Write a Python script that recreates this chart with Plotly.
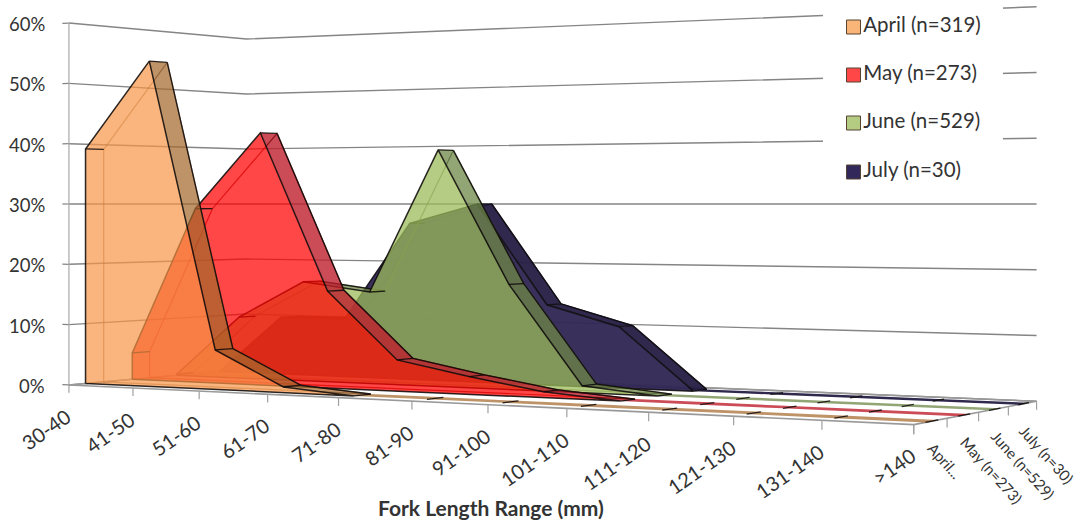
import plotly.graph_objects as go

# ---- data ----
categories = ["30-40", "41-50", "51-60", "61-70", "71-80", "81-90", "91-100",
              "101-110", "111-120", "121-130", "131-140", ">140"]
series_names = ["April (n=319)", "May (n=273)", "June (n=529)", "July (n=30)"]
depth_labels = ["April...", "May (n=273)", "June (n=529)", "July (n=30)"]
april = [39.2, 53.5, 6.4, 0.9, 0, 0, 0, 0, 0, 0, 0, 0]
may = [4.5, 29.2, 41.8, 15.8, 5.0, 2.8, 0.9, 0, 0, 0, 0, 0]
june = [0.2, 10.5, 16.8, 15.3, 38.9, 17.0, 1.1, 0, 0, 0, 0, 0]
july = [0, 10, 10, 26.7, 30, 13.3, 10, 0, 0, 0, 0, 0]
percent_ticks = [0, 10, 20, 30, 40, 50, 60]
axis_title = "Fork Length Range (mm)"

# ---- styling ----
FONT = "Lato, 'Open Sans', sans-serif"
TEXT = "#333333"
GRID = "#858585"
FACE = ["rgba(247,150,70,0.70)", "rgba(255,0,0,0.72)",
        "rgba(155,187,89,0.75)", "rgba(50,40,85,0.96)"]
SLOPE = ["rgba(165,105,45,0.72)", "rgba(190,30,45,0.80)",
         "rgba(110,135,70,0.75)", "rgba(40,32,70,0.96)"]
INNER = ["rgba(120,70,30,0.55)", "rgba(120,0,0,0.75)",
         "rgba(70,90,40,0.60)", "rgba(30,25,60,0.9)"]
SWATCH = ["#F9B478", "#FF4747", "#B4CC82", "#32285A"]
EDGE = "rgba(15,10,10,0.88)"
KEY_X = 853.5
KEY_Y = [27, 75, 123, 172]


# ---- perspective view of the 3-D box ----
# x runs along the fork-length categories, d across the month rows (both 0..1),
# z is the percentage.  The view is turned about 30 degrees, eye level at 30 %.
FOCAL, CX, EYE_Y = 2577.0, 538.0, 204.0
WIDTH, DEPTH = 5.0, 1.61
COS, SIN = 0.859, 0.512


def project(x, d, z):
    xc = -2.592 + WIDTH * x * COS + DEPTH * d * SIN
    zc = 14.24 - WIDTH * x * SIN + DEPTH * d * COS
    return CX + FOCAL * xc / zc, EYE_Y - FOCAL * ((z - 30.0) / 30.0) / zc


def polyline(points):
    xs, ys = zip(*[project(*p) for p in points])
    return list(xs), list(ys)


def segments(pairs):
    xs, ys = [], []
    for a, b in pairs:
        (x0, y0), (x1, y1) = project(*a), project(*b)
        xs += [x0, x1, None]
        ys += [y0, y1, None]
    return xs, ys


fig = go.Figure()


def add_line(xy, color, width):
    fig.add_trace(go.Scatter(x=xy[0], y=xy[1], mode="lines", showlegend=False,
                             hoverinfo="skip", line=dict(color=color, width=width)))


def add_fill(xy, color):
    fig.add_trace(go.Scatter(x=xy[0], y=xy[1], mode="lines", fill="toself", fillcolor=color,
                             line=dict(width=0), showlegend=False, hoverinfo="skip"))


n_cat = len(categories)
xpos = [k / (n_cat - 1) for k in range(n_cat)]

# walls: one gridline per percentage tick, bending at the far left corner
for p in percent_ticks:
    add_line(polyline([(0, 0, p), (0, 1, p), (1, 1, p)]), GRID, 1.4)
    add_line(segments([((0, 0, p), (-0.0095, 0, p))]), GRID, 1.2)
add_line(polyline([(0, 0, 0), (0, 0, 60)]), "#a8a8a8", 1.2)

# floor outline and tick marks
add_line(polyline([(0, 1, 0), (0, 0, 0), (1, 0, 0), (1, 1, 0), (0, 1, 0)]), "#999999", 1.6)
add_line(segments([((x, 0, 0), (x, 0, -1.3)) for x in xpos]), "#a0a0a0", 1.2)
add_line(segments([((1, i / 4, 0), (1, i / 4, -1.3)) for i in range(5)]), "#a0a0a0", 1.2)

# month rows, back to front so the translucent faces layer correctly
rows = [april, may, june, july]
FRONT, BACK = 0.086, 0.182
for idx in [3, 2, 1, 0]:
    values = rows[idx]
    d0, d1 = idx / 4 + FRONT, idx / 4 + BACK
    last = max(k for k, v in enumerate(values) if v > 0) + 1

    # upper surface: shaded where the profile falls or lies flat
    for k in range(n_cat - 1):
        if values[k + 1] <= values[k]:
            add_fill(polyline([(xpos[k], d0, values[k]), (xpos[k + 1], d0, values[k + 1]),
                               (xpos[k + 1], d1, values[k + 1]), (xpos[k], d1, values[k]),
                               (xpos[k], d0, values[k])]), SLOPE[idx])

    # rear outline, faint on rising stretches
    rear = [(xpos[0], d1, 0)] + [(xpos[k], d1, values[k]) for k in range(last + 1)] + [(xpos[last], d1, 0), (xpos[0], d1, 0)]
    add_line(polyline(rear), INNER[idx], 1.2)
    add_line(segments([((xpos[k], d1, values[k]), (xpos[k + 1], d1, values[k + 1]))
                       for k in range(last) if values[k + 1] <= values[k]]), EDGE, 1.4)

    # front face
    face = [(xpos[0], d0, 0)] + [(xpos[k], d0, values[k]) for k in range(last + 1)] + [(xpos[last], d0, 0), (xpos[0], d0, 0)]
    add_fill(polyline(face), FACE[idx])
    add_line(polyline(face), EDGE, 1.5)

    # short edges joining front and rear at every category
    add_line(segments([((xpos[k], d0, values[k]), (xpos[k], d1, values[k])) for k in range(n_cat)]), EDGE, 1.3)

# white panel behind the key, which interrupts the back-wall gridlines
add_fill(([823, 1003, 1003, 823, 823], [0, 0, 192, 192, 0]), "white")

# key: one square and name per month
for name, swatch, ky in zip(series_names, SWATCH, KEY_Y):
    fig.add_trace(go.Scatter(x=[KEY_X], y=[ky], mode="markers+text", name=name, showlegend=False,
                             text=[name], textposition="middle right", hoverinfo="name",
                             textfont=dict(size=20.5, color=TEXT, family=FONT),
                             marker=dict(symbol="square", size=14, color=swatch,
                                         line=dict(color="#554433", width=1))))

annotations = []

# percentage labels
for p in percent_ticks:
    x, y = project(0, 0, p)
    annotations.append(dict(x=47, y=y + 1, text=f"{p}%", xanchor="right", yanchor="middle",
                            showarrow=False, font=dict(size=18.5, color=TEXT, family=FONT)))

# category labels
for x_frac, label in zip(xpos, categories):
    x, y = project(x_frac, 0, 0)
    annotations.append(dict(x=x + 9, y=y + 16, text=label, textangle=-35, xanchor="right", yanchor="top",
                            showarrow=False, font=dict(size=20, color=TEXT, family=FONT)))

# month labels along the right side of the floor
for i, label in enumerate(depth_labels):
    x, y = project(1, (i + 0.5) / 4, 0)
    annotations.append(dict(x=x - 9, y=y + 15, text=label, textangle=48, xanchor="left", yanchor="top",
                            showarrow=False, font=dict(size=15, color=TEXT, family=FONT)))

annotations.append(dict(x=491, y=507, text=f"<b>{axis_title}</b>", xanchor="center", yanchor="middle",
                        showarrow=False, font=dict(size=21, color=TEXT, family=FONT)))

fig.update_layout(
    width=1077, height=527, margin=dict(l=0, r=0, t=0, b=0),
    paper_bgcolor="white", plot_bgcolor="white", showlegend=False,
    xaxis=dict(range=[0, 1077], visible=False, fixedrange=True),
    yaxis=dict(range=[527, 0], visible=False, fixedrange=True),
    annotations=annotations,
)

fig.write_html("out.html", config=dict(displayModeBar=False))
